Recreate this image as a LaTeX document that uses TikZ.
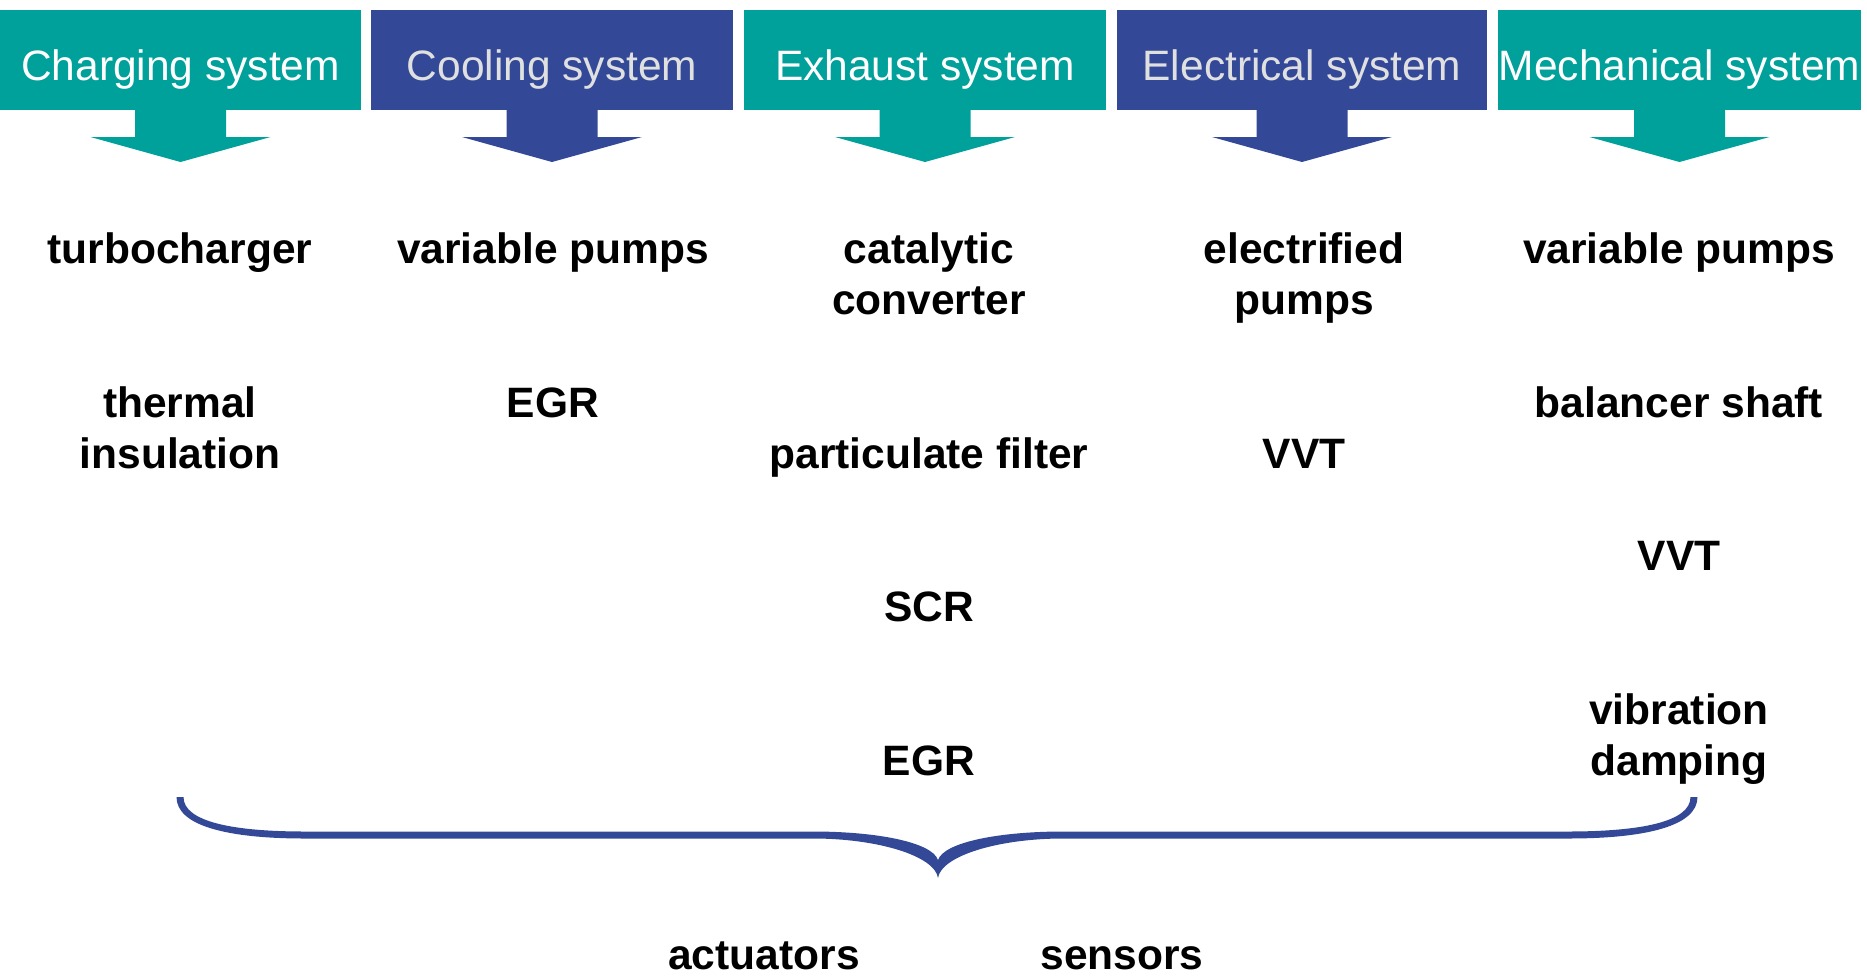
\documentclass[tikz,border=0pt]{standalone}
\usepackage{fontspec}
\setmainfont{Liberation Sans}
\usetikzlibrary{calc}
\definecolor{tealc}{RGB}{0,160,155}
\definecolor{bluec}{RGB}{51,73,151}
\definecolor{lgray}{RGB}{224,224,224}
\newcommand\sysarrow[2]{%
  \fill[#2] ($(#1.south)+(-45.5,0)$) -- ($(#1.south)+(-45.5,27)$) -- ($(#1.south)+(-90,27)$)
    -- ($(#1.south)+(0,52)$) -- ($(#1.south)+(90,27)$) -- ($(#1.south)+(45.5,27)$)
    -- ($(#1.south)+(45.5,0)$) -- cycle;}
\begin{document}
\begin{tikzpicture}[x=1pt,y=-1pt,
  hbox/.style={minimum height=100pt, inner sep=0pt, outer sep=0pt, anchor=north west, draw=none},
  htext/.style={font=\fontsize{42.5}{51}\selectfont, anchor=base, inner sep=0pt},
  item/.style={font=\fontsize{42.5}{51.2}\selectfont\bfseries, anchor=base, align=center, inner sep=0pt},
]
\useasboundingbox (0,0) rectangle (1867,977);
% header boxes
\node[hbox, fill=tealc, minimum width=361pt] (h1) at (0,10) {};
\node[hbox, fill=bluec, minimum width=362pt] (h2) at (371,10) {};
\node[hbox, fill=tealc, minimum width=362pt] (h3) at (744,10) {};
\node[hbox, fill=bluec, minimum width=370pt] (h4) at (1117,10) {};
\node[hbox, fill=tealc, minimum width=363pt] (h5) at (1498,10) {};
\node[htext, text=white] (t1) at ($(h1.center)+(0,20)$) {Charging system};
\node[htext, text=lgray] (t2) at ($(h2.center)+(0,20)$) {Cooling system};
\node[htext, text=white] (t3) at ($(h3.center)+(0,20)$) {Exhaust system};
\node[htext, text=lgray] (t4) at ($(h4.center)+(0,20)$) {Electrical system};
\node[htext, text=white] (t5) at ($(h5.center)+(0,20)$) {Mechanical system};
% block arrows
\sysarrow{h1}{tealc}
\sysarrow{h2}{bluec}
\sysarrow{h3}{tealc}
\sysarrow{h4}{bluec}
\sysarrow{h5}{tealc}
% items (base anchor = baseline of last line)
\node[item] (c1a) at (180,263.5) {turbocharger};
\node[item] (c1b) at (180,468.3) {thermal\\insulation};
\node[item] (c2a) at (553,263.5) {variable pumps};
\node[item] (c2b) at (553,417.1) {EGR};
\node[item] (c3a) at (929,314.7) {catalytic\\converter};
\node[item] (c3b) at (929,468.3) {particulate filter};
\node[item] (c3c) at (929,621.9) {SCR};
\node[item] (c3d) at (929,775.5) {EGR};
\node[item] (c4a) at (1304,314.7) {electrified\\pumps};
\node[item] (c4b) at (1304,468.3) {VVT};
\node[item] (c5a) at (1679,263.5) {variable pumps};
\node[item] (c5b) at (1679,417.1) {balancer shaft};
\node[item] (c5c) at (1679,570.7) {VVT};
\node[item] (c5d) at (1679,775.5) {vibration\\damping};
% brace
\fill[bluec] (176.5,797) .. controls (176.5,826) and (228,838.5) .. (305,838.5)
  -- (813,838.5) .. controls (878,838.5) and (935,856) .. (938,878)
  .. controls (941,856) and (998,838.5) .. (1063,838.5)
  -- (1568,838.5) .. controls (1646,838.5) and (1697.5,826) .. (1697.5,797)
  -- (1690.5,797) .. controls (1690.5,822) and (1640,831.5) .. (1568,831.5)
  -- (1063,831.5) .. controls (1000,831.5) and (944,842) .. (938,860)
  .. controls (932,842) and (876,831.5) .. (813,831.5)
  -- (305,831.5) .. controls (234,831.5) and (183.5,822) .. (183.5,797) -- cycle;
\node[item] (act) at (764,969) {actuators};
\node[item] (sen) at (1122,969) {sensors};
\end{tikzpicture}
\end{document}
